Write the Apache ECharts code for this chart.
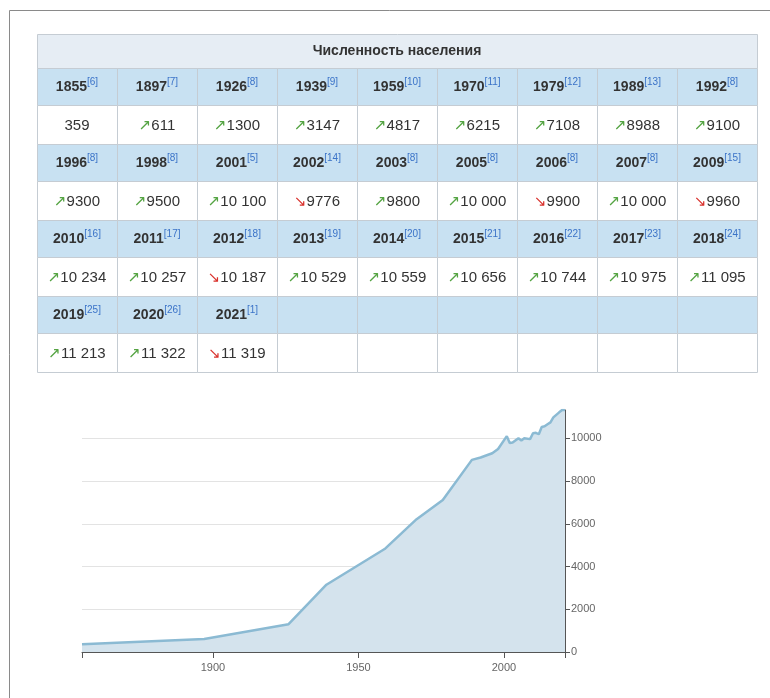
<!DOCTYPE html>
<html>
<head>
<meta charset="utf-8">
<script src="https://cdn.jsdelivr.net/npm/echarts@6/dist/echarts.min.js"></script>
<style>
html, body { margin: 0; padding: 0; background: #fff; }
#chart { width: 770px; height: 698px; }
</style>
</head>
<body>
<div id="chart"></div>
<script>
var tableTitle = 'Численность населения';
var years = [1855, 1897, 1926, 1939, 1959, 1970, 1979, 1989, 1992,
	1996, 1998, 2001, 2002, 2003, 2005, 2006, 2007, 2009,
	2010, 2011, 2012, 2013, 2014, 2015, 2016, 2017, 2018,
	2019, 2020, 2021];
var refs = [6, 7, 8, 9, 10, 11, 12, 13, 8,
	8, 8, 5, 14, 8, 8, 8, 8, 15,
	16, 17, 18, 19, 20, 21, 22, 23, 24,
	25, 26, 1];
var population = [359, 611, 1300, 3147, 4817, 6215, 7108, 8988, 9100,
	9300, 9500, 10100, 9776, 9800, 10000, 9900, 10000, 9960,
	10234, 10257, 10187, 10529, 10559, 10656, 10744, 10975, 11095,
	11213, 11322, 11319];
var xTicks = [1855, 1900, 1950, 2000, 2021];
var xLabels = [1900, 1950, 2000];

var font = '"Liberation Sans", Arial, sans-serif';

// таблица
var tX = 37, tY = 34, colW = 80, cols = 9;
var titleH = 34, headH = 37, valH = 39;
var borderColor = '#c5ccd3';

function fmt(v) {
	var s = String(v);
	if (v >= 10000) s = s.slice(0, s.length - 3) + ' ' + s.slice(-3);
	return s;
}

var graphics = [];

// рамка
graphics.push({ type: 'line', shape: { x1: 9.5, y1: 10.5, x2: 770, y2: 10.5 }, style: { stroke: '#8a8a8a', lineWidth: 1 } });
graphics.push({ type: 'line', shape: { x1: 9.5, y1: 10.5, x2: 9.5, y2: 698 }, style: { stroke: '#8a8a8a', lineWidth: 1 } });

graphics.push({
	type: 'rect',
	shape: { x: tX + 0.5, y: tY + 0.5, width: colW * cols, height: titleH },
	style: { fill: '#e6edf4', stroke: borderColor, lineWidth: 1 }
});
graphics.push({
	type: 'text',
	style: {
		text: tableTitle, x: tX + colW * cols / 2, y: tY + titleH / 2,
		align: 'center', verticalAlign: 'middle',
		font: 'bold 14px ' + font, fill: '#333'
	}
});

var rows = Math.ceil(years.length / cols);
for (var r = 0; r < rows; r++) {
	var hy = tY + titleH + r * (headH + valH);
	var vy = hy + headH;
	for (var c = 0; c < cols; c++) {
		var i = r * cols + c;
		var cx = tX + c * colW;
		graphics.push({
			type: 'rect',
			shape: { x: cx + 0.5, y: hy + 0.5, width: colW, height: headH },
			style: { fill: '#c8e1f2', stroke: borderColor, lineWidth: 1 }
		});
		graphics.push({
			type: 'rect',
			shape: { x: cx + 0.5, y: vy + 0.5, width: colW, height: valH },
			style: { fill: '#ffffff', stroke: borderColor, lineWidth: 1 }
		});
		if (i >= years.length) continue;
		graphics.push({
			type: 'text',
			style: {
				text: '{y|' + years[i] + '}{r|[' + refs[i] + ']}',
				x: cx + colW / 2, y: hy + headH / 2 + 1,
				align: 'center', verticalAlign: 'middle',
				rich: {
					y: { fontFamily: font, fontWeight: 'bold', fontSize: 14, fill: '#333', lineHeight: 20 },
					r: { fontFamily: font, fontSize: 10, fill: '#3b73c8', verticalAlign: 'top' }
				}
			}
		});
		var arrow = '';
		if (i > 0) {
			arrow = population[i] >= population[i - 1] ? '{up|↗}' : '{dn|↘}';
		}
		graphics.push({
			type: 'text',
			style: {
				text: arrow + '{v|' + fmt(population[i]) + '}',
				x: cx + colW / 2, y: vy + valH / 2 + 1,
				align: 'center', verticalAlign: 'middle',
				rich: {
					v: { fontFamily: font, fontSize: 15, fill: '#333', lineHeight: 20 },
					up: { fontFamily: 'DejaVu Sans', fontSize: 15, fill: '#55a443', verticalAlign: 'middle', padding: [2, 0, 0, 0] },
					dn: { fontFamily: 'DejaVu Sans', fontSize: 15, fill: '#d9302b', verticalAlign: 'middle', padding: [2, 0, 0, 0] }
				}
			}
		});
	}
}

var seriesData = years.map(function(y, i) { return [y, population[i]]; });

var chart = echarts.init(document.getElementById('chart'));
chart.setOption({
	animation: false,
	backgroundColor: '#fff',
	grid: { left: 82, right: 205, top: 410, bottom: 46, containLabel: false, outerBoundsMode: 'none' },
	xAxis: {
		type: 'value',
		min: 1855,
		max: 2021,
		axisLine: { lineStyle: { color: '#555', width: 1 } },
		axisTick: { customValues: xTicks, length: 6, lineStyle: { color: '#555' } },
		axisLabel: {
			customValues: xLabels,
			color: '#666', fontSize: 11, fontFamily: font, margin: 10,
			formatter: function(v) { return String(v); }
		},
		splitLine: { show: false }
	},
	yAxis: {
		type: 'value',
		position: 'right',
		min: 0,
		max: 'dataMax',
		interval: 2000,
		axisLine: { show: true, lineStyle: { color: '#555' } },
		axisTick: { show: true, length: 5, lineStyle: { color: '#555' } },
		axisLabel: {
			color: '#666', fontSize: 11, fontFamily: font, margin: 6,
			showMaxLabel: false,
			formatter: function(v) { return String(v); }
		},
		splitLine: { show: true, showMinLine: false, showMaxLine: false, lineStyle: { color: '#e3e3e3' } }
	},
	series: [{
		type: 'line',
		data: seriesData,
		showSymbol: false,
		lineStyle: { color: '#8bbad3', width: 2.5 },
		areaStyle: { color: '#d4e3ed', opacity: 1 },
		z: 1
	}],
	graphic: graphics
});
</script>
</body>
</html>
